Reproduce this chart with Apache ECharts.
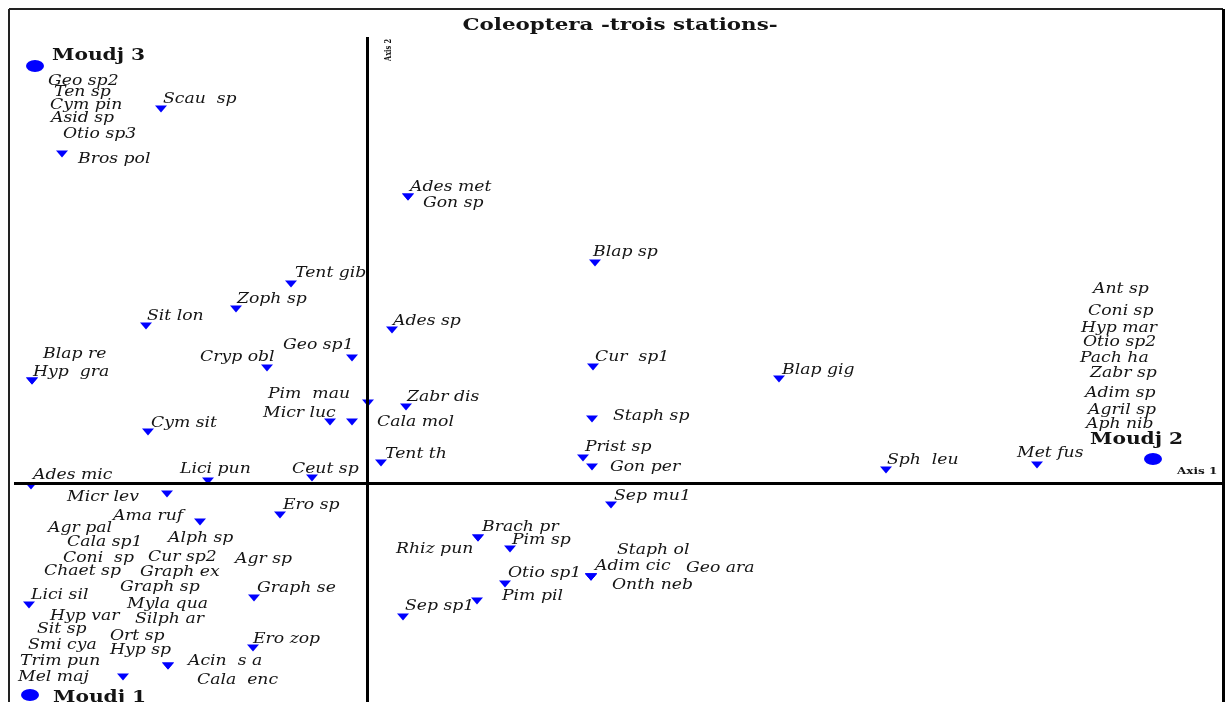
<!DOCTYPE html>
<html><head><meta charset="utf-8">
<script src="https://cdn.jsdelivr.net/npm/echarts@6/dist/echarts.min.js"></script>
<style>html,body{margin:0;padding:0;background:#fff}#c{width:1225px;height:702px}</style>
</head><body><div id="c"></div>
<script>
// ---- data (coordinates in factorial-plane units) ----
const titleText = 'Coleoptera -trois stations-';
const xRange = [-3.58, 8.56];
const yRange = [-2.19, 4.74];
const axisNames = [
  ['Axis 1', 8.10, 0.12],
  ['Axis 2', 0.21, 4.33]
];
const axis1Start = -3.53;
const axis2Top = 4.46;

// stations: [name, x, y, labelX, labelY]
const stations = [
  ['Moudj 3', -3.32, 4.17, -3.15, 4.27],
  ['Moudj 2', 7.86, 0.24, 7.23, 0.43],
  ['Moudj 1', -3.37, -2.12, -3.14, -2.15]
];

// species: [name, markerX, markerY, labelX, labelY]
const speciesMoudj3 = [
  ['Geo sp2', -3.32, 4.17, -3.19, 4.02],
  ['Ten sp', -3.32, 4.17, -3.13, 3.91],
  ['Cym pin', -3.32, 4.17, -3.17, 3.78],
  ['Asid sp', -3.32, 4.17, -3.16, 3.65],
  ['Otio sp3', -3.32, 4.17, -3.04, 3.49],
  ['Scau  sp', -2.06, 3.74, -2.04, 3.84],
  ['Bros pol', -3.05, 3.29, -2.89, 3.24]
];
const speciesUpperLeft = [
  ['Tent gib', -0.76, 1.99, -0.72, 2.10],
  ['Zoph sp', -1.31, 1.74, -1.30, 1.84],
  ['Sit lon', -2.21, 1.57, -2.20, 1.67],
  ['Geo sp1', -0.15, 1.25, -0.84, 1.38],
  ['Cryp obl', -1.00, 1.15, -1.67, 1.26],
  ['Blap re', -3.35, 1.02, -3.24, 1.29],
  ['Hyp  gra', -3.35, 1.02, -3.34, 1.11],
  ['Pim  mau', 0.01, 0.80, -0.99, 0.89],
  ['Micr luc', -0.37, 0.61, -1.04, 0.70],
  ['Cala mol', -0.15, 0.61, 0.10, 0.61],
  ['Cym sit', -2.19, 0.51, -2.16, 0.60],
  ['Ceut sp', -0.55, 0.05, -0.75, 0.14],
  ['Lici pun', -1.59, 0.02, -1.87, 0.14],
  ['Ades mic', -3.36, -0.03, -3.34, 0.08]
];
const speciesUpperRight = [
  ['Ades met', 0.41, 2.86, 0.43, 2.96],
  ['Gon sp', 0.41, 2.86, 0.56, 2.80],
  ['Blap sp', 2.28, 2.20, 2.26, 2.31],
  ['Ades sp', 0.25, 1.53, 0.26, 1.62],
  ['Cur  sp1', 2.26, 1.16, 2.28, 1.26],
  ['Blap gig', 4.12, 1.04, 4.15, 1.13],
  ['Zabr dis', 0.39, 0.76, 0.40, 0.86],
  ['Staph sp', 2.25, 0.64, 2.46, 0.67],
  ['Tent th', 0.14, 0.20, 0.18, 0.29],
  ['Prist sp', 2.16, 0.25, 2.18, 0.36],
  ['Gon per', 2.25, 0.16, 2.43, 0.16],
  ['Sph  leu', 5.19, 0.13, 5.20, 0.23],
  ['Met fus', 6.70, 0.18, 6.50, 0.30]
];
const speciesMoudj2 = [
  ['Ant sp', 7.86, 0.24, 7.26, 1.94],
  ['Coni sp', 7.86, 0.24, 7.21, 1.72],
  ['Hyp mar', 7.86, 0.24, 7.14, 1.55],
  ['Otio sp2', 7.86, 0.24, 7.16, 1.41],
  ['Pach ha', 7.86, 0.24, 7.13, 1.25],
  ['Zabr sp', 7.86, 0.24, 7.23, 1.10],
  ['Adim sp', 7.86, 0.24, 7.18, 0.90],
  ['Agril sp', 7.86, 0.24, 7.21, 0.73],
  ['Aph nib', 7.86, 0.24, 7.19, 0.59]
];
const speciesLowerRight = [
  ['Sep mu1', 2.44, -0.22, 2.47, -0.13],
  ['Brach pr', 1.11, -0.55, 1.15, -0.44],
  ['Rhiz pun', 1.11, -0.55, 0.29, -0.66],
  ['Pim sp', 1.43, -0.66, 1.45, -0.57],
  ['Staph ol', 2.24, -0.94, 2.50, -0.67],
  ['Adim cic', 2.24, -0.94, 2.28, -0.83],
  ['Geo ara', 2.24, -0.94, 3.19, -0.85],
  ['Onth neb', 2.24, -0.94, 2.45, -1.02],
  ['Otio sp1', 1.38, -1.01, 1.41, -0.90],
  ['Pim pil', 1.10, -1.18, 1.35, -1.13],
  ['Sep sp1', 0.36, -1.34, 0.38, -1.23]
];
const speciesLowerLeft = [
  ['Micr lev', -2.00, -0.11, -3.00, -0.14],
  ['Ero sp', -0.87, -0.32, -0.84, -0.22],
  ['Ama ruf', -1.67, -0.39, -2.54, -0.33],
  ['Graph se', -1.13, -1.15, -1.10, -1.05],
  ['Lici sil', -3.38, -1.22, -3.36, -1.12],
  ['Ero zop', -1.14, -1.65, -1.14, -1.56],
  ['Acin  s a', -1.99, -1.83, -1.79, -1.78],
  ['Mel maj', -2.44, -1.94, -3.49, -1.94],
  ['Cala  enc', -1.99, -1.83, -1.70, -1.97]
];
const speciesMoudj1 = [
  ['Agr pal', -3.37, -2.12, -3.19, -0.45],
  ['Cala sp1', -3.37, -2.12, -3.00, -0.59],
  ['Alph sp', -3.37, -2.12, -1.99, -0.55],
  ['Coni  sp', -3.37, -2.12, -3.04, -0.75],
  ['Cur sp2', -3.37, -2.12, -2.19, -0.74],
  ['Agr sp', -3.37, -2.12, -1.32, -0.76],
  ['Chaet sp', -3.37, -2.12, -3.23, -0.88],
  ['Graph ex', -3.37, -2.12, -2.27, -0.89],
  ['Graph sp', -3.37, -2.12, -2.47, -1.04],
  ['Myla qua', -3.37, -2.12, -2.40, -1.21],
  ['Hyp var', -3.37, -2.12, -3.17, -1.33],
  ['Silph ar', -3.37, -2.12, -2.32, -1.36],
  ['Sit sp', -3.37, -2.12, -3.30, -1.46],
  ['Ort sp', -3.37, -2.12, -2.57, -1.53],
  ['Smi cya', -3.37, -2.12, -3.39, -1.62],
  ['Hyp sp', -3.37, -2.12, -2.57, -1.67],
  ['Trim pun', -3.37, -2.12, -3.47, -1.78]
];

// ---- build chart ----
const allSpecies = [].concat(speciesMoudj3, speciesUpperLeft, speciesUpperRight,
  speciesMoudj2, speciesLowerRight, speciesLowerLeft, speciesMoudj1);
const BLUE = '#0000ff';
const INK = '#141414';
const SERIF = "'DejaVu Serif', 'Liberation Serif', serif";

// text drawn through the axes, stretched horizontally like the original print
function textSeries(names, points, font, stretch, align, rotations) {
  const pick = (v, i) => Array.isArray(v) ? v[i] : v;
  return {
    type: 'custom', z: 6, silent: true, clip: false,
    data: points,
    renderItem: function (params, api) {
      const i = params.dataIndex;
      const p = api.coord([api.value(0), api.value(1)]);
      return {
        type: 'text', x: p[0], y: p[1], rotation: rotations ? rotations[i] : 0,
        scaleX: pick(stretch, i), scaleY: 1,
        style: {text: names[i], font: font, fill: INK,
          align: pick(align, i), verticalAlign: 'middle'}
      };
    }
  };
}

const chart = echarts.init(document.getElementById('c'), null, {renderer: 'canvas'});
chart.setOption({
  animation: false,
  backgroundColor: '#fff',
  graphic: [{
    type: 'text', x: 620, y: 26, scaleX: 1.26,
    style: {text: titleText, font: "bold 17px 'DejaVu Serif', serif", fill: INK,
      align: 'center', verticalAlign: 'middle'}
  }],
  grid: {left: 9, top: 9, width: 1214, height: 693, show: false},
  xAxis: {type: 'value', min: xRange[0], max: xRange[1], show: false},
  yAxis: {type: 'value', min: yRange[0], max: yRange[1], show: false},
  series: [
    {
      // frame (top, left, right) and the two factorial axes
      type: 'scatter', symbolSize: 0, data: [[0, 0]], silent: true, z: 1, clip: false,
      markLine: {
        silent: true, symbol: ['none', 'none'], label: {show: false},
        lineStyle: {color: '#000', width: 3, type: 'solid'},
        data: [
          [{coord: [axis1Start, 0]}, {coord: [xRange[1], 0]}],
          [{coord: [0, axis2Top]}, {coord: [0, yRange[0]]}],
          [{coord: [xRange[0], yRange[1]], lineStyle: {width: 2, color: '#222'}},
           {coord: [xRange[1], yRange[1]]}],
          [{coord: [xRange[0], yRange[1]], lineStyle: {width: 2, color: '#222'}},
           {coord: [xRange[0], yRange[0]]}],
          [{coord: [xRange[1], yRange[1]], lineStyle: {width: 3, color: '#000'}},
           {coord: [xRange[1], yRange[0]]}]
        ]
      }
    },
    {
      type: 'scatter', symbol: 'triangle', symbolRotate: 180, symbolSize: [12, 7], z: 3,
      itemStyle: {color: BLUE, opacity: 1},
      data: allSpecies.map(s => [s[1], s[2]])
    },
    textSeries(allSpecies.map(s => s[0]), allSpecies.map(s => [s[3], s[4]]),
      "italic 14px 'DejaVu Serif', serif", 1.23, 'left'),
    {
      type: 'scatter', symbol: 'circle', symbolSize: [18, 12], z: 5,
      itemStyle: {color: BLUE, opacity: 1},
      data: stations.map(s => [s[1], s[2]])
    },
    textSeries(stations.map(s => s[0]), stations.map(s => [s[3], s[4]]),
      "bold 17px 'DejaVu Serif', serif", 1.19, 'left'),
    textSeries(axisNames.map(a => a[0]), axisNames.map(a => [a[1], a[2]]),
      "bold 10px 'DejaVu Serif', serif", [1.2, 0.65], ['left', 'center'], [0, Math.PI / 2])
  ]
});
</script></body></html>
